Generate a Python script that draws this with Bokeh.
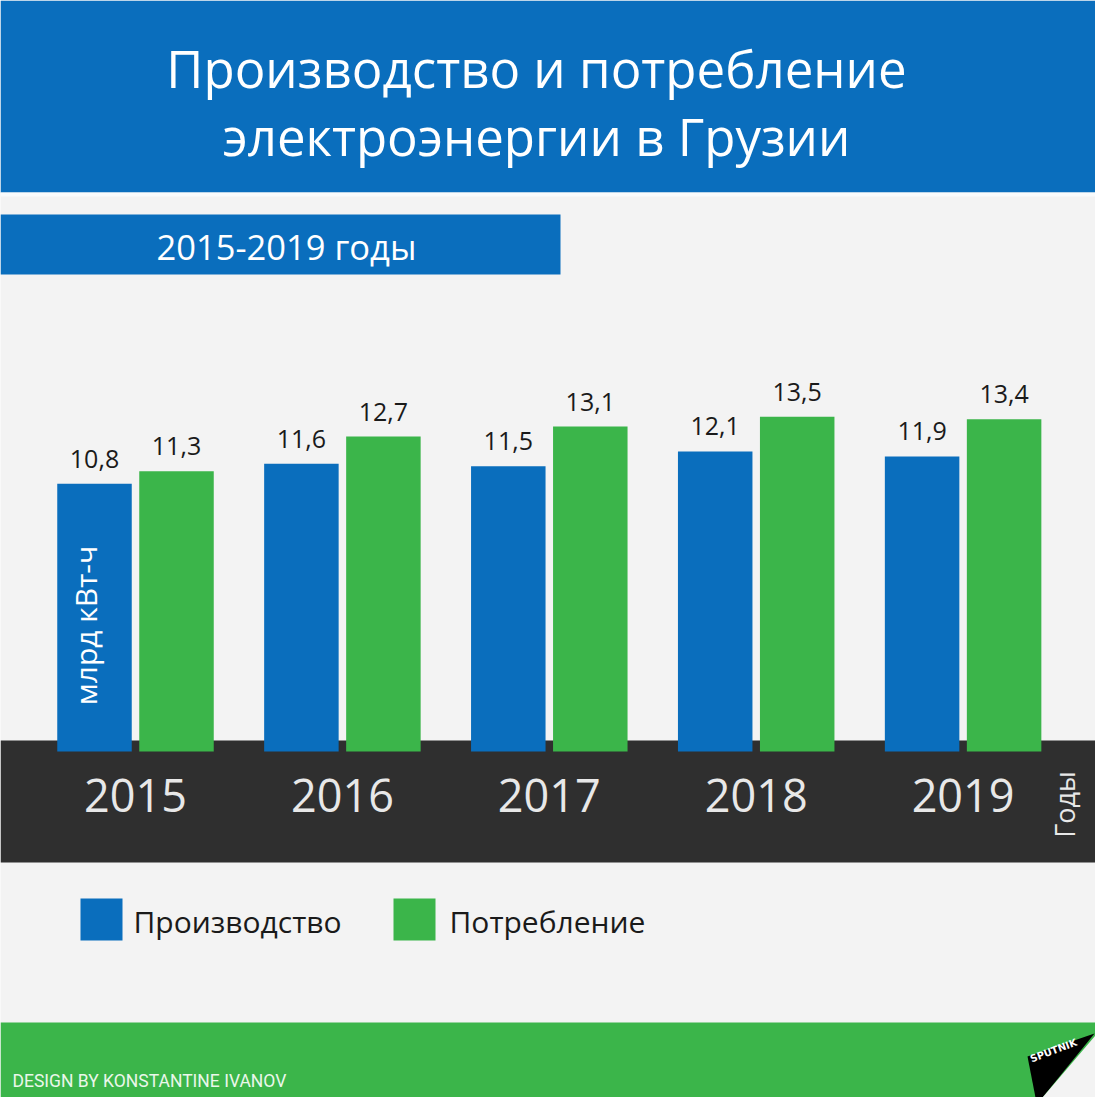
import math
from bokeh.plotting import figure
from bokeh.models import Range1d
from bokeh.core.properties import value
from bokeh.embed import file_html
from bokeh.resources import INLINE

# ---------------- data ----------------
years = ["2015", "2016", "2017", "2018", "2019"]
production = [10.8, 11.6, 11.5, 12.1, 11.9]
consumption = [11.3, 12.7, 13.1, 13.5, 13.4]
series_names = ["Производство", "Потребление"]
title_lines = ["Производство и потребление", "электроэнергии в Грузии"]
subtitle = "2015-2019 годы"
unit_label = "млрд кВт-ч"
axis_label = "Годы"
credit = "DESIGN BY KONSTANTINE IVANOV"

# ---------------- style ----------------
BLUE = "#0a6ebd"
GREEN = "#3bb54a"
DARK = "#2f2f2f"
BG = "#f3f3f3"
FONT = "Open Sans"

W, H = 1095, 1097
BASE = 751.0   # pixel row of value 0
PX = 24.8      # pixels per unit


def Y(py):
    """convert a reference pixel row to the data y (value units)"""
    return (BASE - py) / PX


p = figure(width=W, height=H, x_range=Range1d(0, W), y_range=Range1d(Y(H), Y(0)),
           output_backend="svg", toolbar_location=None, min_border=0)
p.axis.visible = False
p.grid.visible = False
p.outline_line_color = None
p.background_fill_color = BG
p.border_fill_color = BG

# header band
p.quad(left=[0], right=[1100], top=[Y(0)], bottom=[Y(192)], color=BLUE, line_color=None)
p.quad(left=[0], right=[1100], top=[Y(192)], bottom=[Y(196)], color="#f9fbfc", line_color=None)
for i, line in enumerate(title_lines):
    p.text(x=[536], y=[Y(67 + i * 68)], text=[line], text_color="white",
           text_font=value(FONT), text_font_size="51px",
           text_align="center", text_baseline="middle")

# subtitle box
p.quad(left=[0], right=[560], top=[Y(214)], bottom=[Y(274)], color=BLUE, line_color=None)
p.text(x=[286], y=[Y(246)], text=[subtitle], text_color="white",
       text_font=value(FONT), text_font_size="34.5px",
       text_align="center", text_baseline="middle")

# dark year band
p.quad(left=[0], right=[1100], top=[Y(740)], bottom=[Y(862)], color=DARK, line_color=None)

# bars
STEP = 206.9
xb = [94 + i * STEP for i in range(len(years))]
xg = [176 + i * STEP for i in range(len(years))]
xc = [135 + i * STEP for i in range(len(years))]
BW = 74.5
p.vbar(x=xb, top=production, bottom=0, width=BW, color=BLUE, line_color=None)
p.vbar(x=xg, top=consumption, bottom=0, width=BW, color=GREEN, line_color=None)

# value labels (text centre ~25px above bar top)
lab_off = 25 / PX
p.text(x=xb, y=[v + lab_off for v in production], text=[f"{v:.1f}".replace(".", ",") for v in production],
       text_color="#1a1a1a", text_font=value(FONT), text_font_size="25px",
       text_align="center", text_baseline="middle")
p.text(x=xg, y=[v + lab_off for v in consumption], text=[f"{v:.1f}".replace(".", ",") for v in consumption],
       text_color="#1a1a1a", text_font=value(FONT), text_font_size="25px",
       text_align="center", text_baseline="middle")

# year labels
p.text(x=xc, y=[Y(795)] * len(years), text=years, text_color="#e8e8e8",
       text_font=value(FONT), text_font_size="45px",
       text_align="center", text_baseline="middle")

# unit label inside first bar
p.text(x=[85], y=[Y(625)], text=[unit_label], angle=math.pi / 2, text_color="white",
       text_font=value(FONT), text_font_size="30px",
       text_align="center", text_baseline="middle")

# "Годы"
p.text(x=[1064], y=[Y(804)], text=[axis_label], angle=math.pi / 2, text_color="#e8e8e8",
       text_font=value(FONT), text_font_size="27px",
       text_align="center", text_baseline="middle")

# legend
leg_x = [80, 393]
leg_col = [BLUE, GREEN]
p.quad(left=leg_x, right=[x + 42 for x in leg_x], top=[Y(898)] * 2, bottom=[Y(940)] * 2,
       color=leg_col, line_color=None)
p.text(x=[133, 449], y=[Y(921)] * 2, text=series_names, text_color="#1a1a1a",
       text_font=value(FONT), text_font_size="30px",
       text_align="left", text_baseline="middle")

# footer
p.quad(left=[0], right=[1100], top=[Y(1022)], bottom=[Y(1100)], color=GREEN, line_color=None)
p.text(x=[12], y=[Y(1080)], text=[credit], text_color="#eaf7ea",
       text_font=value("Roboto"), text_font_size="17.5px",
       text_align="left", text_baseline="middle")

# sputnik mark
p.patch(x=[1027, 1094, 1042, 1035], y=[Y(1056), Y(1033), Y(1097), Y(1097)], color="black", line_color=None)
p.patch(x=[1095, 1095, 1042], y=[Y(1035), Y(1097), Y(1097)], color=BG, line_color=None)
p.text(x=[1053], y=[Y(1050)], text=["SPUTNIK"], angle=0.36, text_color="white",
       text_font=value("DejaVu Sans"), text_font_size="10px", text_font_style="bold",
       text_align="center", text_baseline="middle")

open("out.html", "w").write(file_html(p, INLINE))
